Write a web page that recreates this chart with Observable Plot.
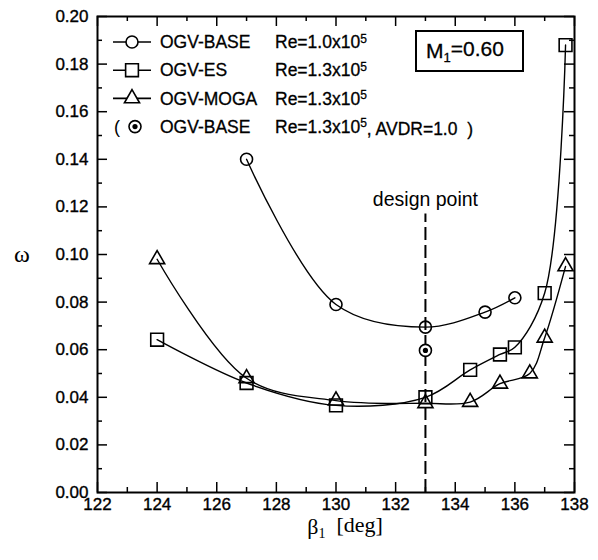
<!DOCTYPE html>
<html><head><meta charset="utf-8">
<script src="https://cdn.jsdelivr.net/npm/d3@7"></script>
<script src="https://cdn.jsdelivr.net/npm/@observablehq/plot@0.6"></script>
<style>
body{margin:0;background:#fff}
g[aria-label="x-axis tick label"] text, g[aria-label="y-axis tick label"] text { stroke: black; stroke-width: 0.35px; }
.bt { stroke: black; stroke-width: 0.3px; }
</style>
</head><body><div id="chart"></div>
<script>
// ---- data ----
const baseBeta  = [127, 130, 133, 135, 136];
const baseOmega = [0.140, 0.079, 0.0695, 0.0758, 0.0818];
const esBeta    = [124, 127, 130, 133, 134.5, 135.5, 136, 137, 137.7];
const esOmega   = [0.0642, 0.046, 0.0366, 0.040, 0.0515, 0.058, 0.061, 0.0838, 0.188];
const mogaBeta  = [124, 127, 130, 133, 134.5, 135.5, 136.5, 137, 137.7];
const mogaOmega = [0.098, 0.048, 0.0386, 0.0375, 0.038, 0.0457, 0.050, 0.065, 0.095];
const avdrBeta  = [133];
const avdrOmega = [0.0597];
const designBeta = [133];
const designLineTop = 0.117;
const xTicks = [122, 124, 126, 128, 130, 132, 134, 136, 138];
const xMinorTicks = [123, 125, 127, 129, 131, 133, 135, 137];
const yTicks = [0, 0.02, 0.04, 0.06, 0.08, 0.10, 0.12, 0.14, 0.16, 0.18, 0.20];
const yMinorTicks = [0.01, 0.03, 0.05, 0.07, 0.09, 0.11, 0.13, 0.15, 0.17, 0.19];
const legendRows = [
  {symbol: "circle",   name: "OGV-BASE", re: "1.0", extra: ""},
  {symbol: "square",   name: "OGV-ES",   re: "1.3", extra: ""},
  {symbol: "triangle", name: "OGV-MOGA", re: "1.3", extra: ""},
  {symbol: "dotcircle",name: "OGV-BASE", re: "1.3", extra: ", AVDR=1.0  )"}
];

const pts = (b, o) => b.map((x, i) => ({x, y: o[i]}));
const base = pts(baseBeta, baseOmega), es = pts(esBeta, esOmega),
      moga = pts(mogaBeta, mogaOmega), avdr = pts(avdrBeta, avdrOmega);

const W = 598, H = 560, mL = 97, mR = 24, mT = 16, mB = 68;
const plotW = W - mL - mR, plotH = H - mT - mB;
const majL = 10, minL = 5;
const tw = 1.5;

const svg = Plot.plot({
  width: W, height: H, marginLeft: mL, marginRight: mR, marginTop: mT, marginBottom: mB,
  x: {domain: [122, 138]},
  y: {domain: [0, 0.2]},
  style: {fontFamily: "'Liberation Sans', Arial, sans-serif", fontSize: "17px", color: "black", background: "white"},
  marks: [
    Plot.axisX({ticks: xTicks, tickSize: 0, tickPadding: 5, fontSize: 17, label: null, tickFormat: d3.format("d")}),
    Plot.axisY({ticks: yTicks, tickSize: 0, tickPadding: 9, fontSize: 17, label: null, tickFormat: d3.format(".2f")}),
    // inward ticks on four sides
    Plot.tickX(xTicks, {x: d => d, insetTop: plotH - majL, stroke: "black", strokeWidth: tw}),
    Plot.tickX(xTicks, {x: d => d, insetBottom: plotH - majL, stroke: "black", strokeWidth: tw}),
    Plot.tickX(xMinorTicks, {x: d => d, insetTop: plotH - minL, stroke: "black", strokeWidth: tw}),
    Plot.tickX(xMinorTicks, {x: d => d, insetBottom: plotH - minL, stroke: "black", strokeWidth: tw}),
    Plot.tickY(yTicks, {y: d => d, insetRight: plotW - majL, stroke: "black", strokeWidth: tw}),
    Plot.tickY(yTicks, {y: d => d, insetLeft: plotW - majL, stroke: "black", strokeWidth: tw}),
    Plot.tickY(yMinorTicks, {y: d => d, insetRight: plotW - minL, stroke: "black", strokeWidth: tw}),
    Plot.tickY(yMinorTicks, {y: d => d, insetLeft: plotW - minL, stroke: "black", strokeWidth: tw}),
    // design point
    Plot.ruleX(designBeta, {x: d => d, y1: 0, y2: designLineTop, stroke: "black", strokeWidth: 2, strokeDasharray: "13,5"}),
    Plot.text(designBeta, {x: d => d, y: designLineTop, text: () => "design point", dy: -14, fontSize: 19.5, fill: "black"}),
    // curves
    Plot.line(base, {x: "x", y: "y", curve: "catmull-rom", stroke: "black", strokeWidth: 1.4}),
    Plot.line(es, {x: "x", y: "y", curve: "catmull-rom", stroke: "black", strokeWidth: 1.4}),
    Plot.line(moga, {x: "x", y: "y", curve: "catmull-rom", stroke: "black", strokeWidth: 1.4}),
    // markers
    Plot.dot(base, {x: "x", y: "y", symbol: "circle", r: 6, stroke: "black", strokeWidth: 1.6, fill: "none"}),
    Plot.dot(es, {x: "x", y: "y", symbol: "square", r: 7.2, stroke: "black", strokeWidth: 1.6, fill: "none"}),
    Plot.dot(moga, {x: "x", y: "y", symbol: "triangle", r: 5.6, stroke: "black", strokeWidth: 1.6, fill: "none"}),
    Plot.dot(avdr, {x: "x", y: "y", symbol: "circle", r: 6, stroke: "black", strokeWidth: 1.6, fill: "white"}),
    Plot.dot(avdr, {x: "x", y: "y", symbol: "circle", r: 2.6, fill: "black", stroke: "none"}),
    Plot.frame({stroke: "black", strokeWidth: 2})
  ]
});

const g = d3.select(svg).append("g")
  .attr("font-family", "'Liberation Sans', Arial, sans-serif")
  .attr("text-anchor", "start").attr("fill", "black");
const sym = d => d3.symbol().type(d === "square" ? d3.symbolSquare : d3.symbolTriangle)
  .size(d === "square" ? Math.PI * 7.2 * 7.2 : Math.PI * 5.6 * 5.6)();
legendRows.forEach((row, i) => {
  const cy = 42 + i * 28.2;
  const sx = row.symbol === "dotcircle" ? 135 : 132;
  if (row.symbol !== "dotcircle") {
    g.append("line").attr("x1", 113).attr("x2", 151).attr("y1", cy).attr("y2", cy)
      .attr("stroke", "black").attr("stroke-width", 1.6);
  } else {
    g.append("text").attr("x", 114).attr("y", cy).attr("dy", "0.35em").attr("font-size", 18).text("(");
  }
  if (row.symbol === "circle" || row.symbol === "dotcircle") {
    g.append("circle").attr("cx", sx).attr("cy", cy).attr("r", 6).attr("fill", "white")
      .attr("stroke", "black").attr("stroke-width", 1.6);
    if (row.symbol === "dotcircle") g.append("circle").attr("cx", sx).attr("cy", cy).attr("r", 2.6).attr("fill", "black");
  } else {
    g.append("path").attr("d", sym(row.symbol)).attr("transform", `translate(${sx},${cy})`)
      .attr("fill", "white").attr("stroke", "black").attr("stroke-width", 1.6);
  }
  g.append("text").attr("class", "bt").attr("x", 160).attr("y", cy).attr("dy", "0.35em").attr("font-size", 17.5).text(row.name);
  const t = g.append("text").attr("class", "bt").attr("x", 275).attr("y", cy).attr("dy", "0.35em").attr("font-size", 17.5);
  t.append("tspan").text(`Re=${row.re}x10`);
  t.append("tspan").attr("dy", "-0.45em").attr("font-size", 12).text("5");
  if (row.extra) t.append("tspan").attr("dy", "0.45em").attr("xml:space", "preserve").text(row.extra);
});

// M1 box
g.append("rect").attr("x", 416).attr("y", 31).attr("width", 107).attr("height", 40)
  .attr("fill", "white").attr("stroke", "black").attr("stroke-width", 2);
const m = g.append("text").attr("class", "bt").attr("x", 426).attr("y", 58).attr("font-size", 21);
m.append("tspan").text("M");
m.append("tspan").attr("dy", "0.3em").attr("font-size", 13).text("1");
m.append("tspan").attr("dy", "-0.3em").text("=0.60");

// axis labels
const xl = g.append("text").attr("x", 345).attr("y", 534).attr("text-anchor", "middle")
  .attr("font-family", "'Liberation Serif', 'Times New Roman', serif").attr("font-size", 22)
  .attr("xml:space", "preserve");
xl.append("tspan").text("β");
xl.append("tspan").attr("dy", "0.3em").attr("font-size", 14).text("1");
xl.append("tspan").attr("dy", "-0.3em").text("  [deg]");
g.append("text").attr("x", 22).attr("y", 254).attr("dy", "0.35em").attr("text-anchor", "middle")
  .attr("font-family", "'Liberation Serif', 'Times New Roman', serif").attr("font-size", 24).text("ω");

document.getElementById("chart").appendChild(svg);
</script>
</body></html>
